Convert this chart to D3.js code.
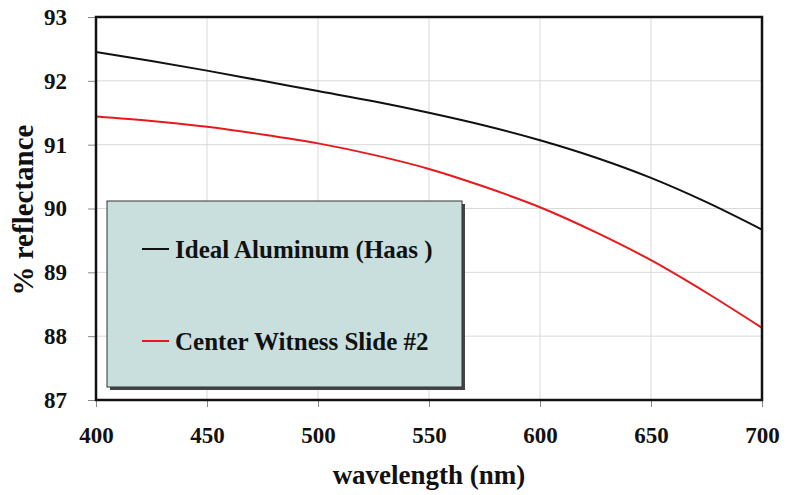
<!DOCTYPE html>
<html>
<head>
<meta charset="utf-8" />
<title>% reflectance vs wavelength</title>
<style>
body { margin: 0; background: #fff; }
text { font-family: "Liberation Serif", "Times New Roman", serif; font-weight: bold; }
</style>
</head>
<body>
<div id="chart"></div>
<script src="https://cdnjs.cloudflare.com/ajax/libs/d3/7.8.5/d3.min.js"></script>
<script>
// wavelength (nm)
var wavelengths = [400, 425, 450, 475, 500, 525, 550, 575, 600, 625, 650, 675, 700];
// Ideal Aluminum (Haas)
var idealAl = [92.45, 92.31, 92.16, 92.00, 91.84, 91.68, 91.50, 91.30, 91.07, 90.80, 90.48, 90.10, 89.67];
// Center Witness Slide #2
var witness = [91.44, 91.37, 91.28, 91.16, 91.02, 90.84, 90.62, 90.34, 90.02, 89.63, 89.19, 88.68, 88.13];
var xTicks = [400, 450, 500, 550, 600, 650, 700];
var yTicks = [87, 88, 89, 90, 91, 92, 93];
var seriesNames = ["Ideal Aluminum (Haas )", "Center Witness Slide #2"];
var seriesColors = ["#111111", "#e8191d"];

!(function(){
    "use strict"
    var width = 798, height = 495
    var margin = {top: 17, left: 96, right: 36, bottom: 95}
    var w = width - margin.left - margin.right
    var h = height - margin.top - margin.bottom

    var svg = d3.select("#chart").append("svg")
        .attr("width", width).attr("height", height)
    var g = svg.append("g")
        .attr("transform", "translate(" + [margin.left, margin.top] + ")")

    var x = d3.scaleLinear().domain([400, 700]).range([0, w])
    var y = d3.scaleLinear().domain([87, 93]).range([h, 0])

    // gridlines
    g.append("g").selectAll("line").data(xTicks).enter().append("line")
        .attr("x1", function(d){ return x(d) }).attr("x2", function(d){ return x(d) })
        .attr("y1", 0).attr("y2", h)
        .attr("stroke", "#d9d9d9").attr("stroke-width", 1)
    g.append("g").selectAll("line").data(yTicks).enter().append("line")
        .attr("y1", function(d){ return y(d) }).attr("y2", function(d){ return y(d) })
        .attr("x1", 0).attr("x2", w)
        .attr("stroke", "#d9d9d9").attr("stroke-width", 1)

    // axes
    var xAxis = g.append("g").attr("transform", "translate(0," + h + ")")
        .call(d3.axisBottom(x).tickValues(xTicks).tickSize(7).tickPadding(20).tickFormat(d3.format("d")))
    var yAxis = g.append("g")
        .call(d3.axisLeft(y).tickValues(yTicks).tickSize(8).tickPadding(21).tickFormat(d3.format("d")))
    ;[xAxis, yAxis].forEach(function(a){
        a.select(".domain").remove()
        a.selectAll(".tick line").attr("stroke", "#888")
        a.selectAll(".tick text").attr("fill", "#111")
            .style("font-size", "23px")
            .style("font-family", "'Liberation Serif', serif").style("font-weight", "bold")
    })

    // series
    var line = d3.line().curve(d3.curveMonotoneX)
        .x(function(d){ return x(d[0]) }).y(function(d){ return y(d[1]) })
    ;[idealAl, witness].forEach(function(vals, i){
        g.append("path")
            .datum(wavelengths.map(function(wl, j){ return [wl, vals[j]] }))
            .attr("fill", "none").attr("stroke", seriesColors[i]).attr("stroke-width", 2)
            .attr("d", line)
    })

    // frame
    g.append("rect").attr("width", w).attr("height", h)
        .attr("fill", "none").attr("stroke", "#111").attr("stroke-width", 2.5)

    // legend
    var lx = 11, ly = 184, lw = 355, lh = 186
    g.append("rect").attr("x", lx + 3).attr("y", ly + 3).attr("width", lw).attr("height", lh)
        .attr("fill", "#444")
    g.append("rect").attr("x", lx).attr("y", ly).attr("width", lw).attr("height", lh)
        .attr("fill", "#c9dfdd").attr("stroke", "#333").attr("stroke-width", 1)
    var items = g.append("g").selectAll("g").data(seriesNames).enter().append("g")
        .attr("transform", function(d, i){ return "translate(" + (lx + 35) + "," + (ly + 48 + i * 92) + ")" })
    items.append("line").attr("x1", 0).attr("x2", 27)
        .attr("stroke", function(d, i){ return seriesColors[i] }).attr("stroke-width", 2)
    items.append("text").attr("x", 33).attr("dy", "0.35em")
        .style("font-size", "25px").attr("fill", "#111")
        .text(function(d){ return d })

    // axis titles
    svg.append("text").attr("x", margin.left + w / 2).attr("y", 484)
        .attr("text-anchor", "middle").style("font-size", "27px").attr("fill", "#111")
        .text("wavelength (nm)")
    svg.append("text").attr("transform", "translate(33,210) rotate(-90)")
        .attr("text-anchor", "middle").style("font-size", "29px").attr("fill", "#111")
        .text("% reflectance")
}());
</script>
</body>
</html>
